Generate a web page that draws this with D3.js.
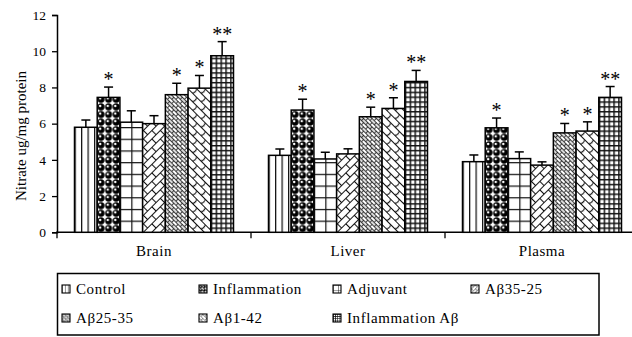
<!DOCTYPE html>
<html>
<head>
<meta charset="utf-8">
<script src="https://cdn.jsdelivr.net/npm/d3@7/dist/d3.min.js"></script>
<style>
  body { margin: 0; background: #fff; }
  svg { display: block; }
  text { font-family: "Liberation Serif", "Times New Roman", serif; fill: #000; }
</style>
</head>
<body>
<svg id="chart" width="632" height="337"></svg>
<script>
// Nitrate levels (ug/mg protein) by tissue and treatment group
const categories = ["Brain", "Liver", "Plasma"];
const seriesNames = ["Control", "Inflammation", "Adjuvant", "Aβ35-25", "Aβ25-35", "Aβ1-42", "Inflammation Aβ"];

const controlValues      = [5.80, 4.25, 3.90];
const inflammationValues = [7.45, 6.75, 5.77];
const adjuvantValues     = [6.08, 4.05, 4.07];
const ab3525Values       = [6.00, 4.33, 3.71];
const ab2535Values       = [7.60, 6.38, 5.49];
const ab142Values        = [7.96, 6.84, 5.59];
const inflAbValues       = [9.75, 8.33, 7.45];

const controlErr      = [0.40, 0.35, 0.37];
const inflammationErr = [0.57, 0.60, 0.54];
const adjuvantErr     = [0.63, 0.37, 0.37];
const ab3525Err       = [0.44, 0.28, 0.18];
const ab2535Err       = [0.63, 0.53, 0.52];
const ab142Err        = [0.70, 0.59, 0.51];
const inflAbErr       = [0.78, 0.61, 0.60];

// significance markers per group
const significance = ["", "*", "", "", "*", "*", "**"];
const yTicks = [0, 2, 4, 6, 8, 10, 12];
const yTitle = "Nitrate ug/mg protein";

const seriesValues = [controlValues, inflammationValues, adjuvantValues, ab3525Values, ab2535Values, ab142Values, inflAbValues];
const seriesErrors = [controlErr, inflammationErr, adjuvantErr, ab3525Err, ab2535Err, ab142Err, inflAbErr];
const fillKinds = ["vlines", "balls", "grid", "bigBrick", "smallBrick", "wave", "fineGrid"];

const svg = d3.select("#chart");
const defs = svg.append("defs");

const plot = { left: 57, right: 639, top: 15, bottom: 232.3 };

const x0 = d3.scaleBand().domain(categories).range([plot.left, plot.right]).paddingInner(0).paddingOuter(0);
const groupPad = 17.5;
const x1 = d3.scaleBand().domain(seriesNames).range([groupPad, x0.bandwidth() - groupPad]).padding(0);
const y = d3.scaleLinear().domain([0, 12]).range([plot.bottom, plot.top]);

// hatch / texture fills, anchored at (tx, ty)
function makePattern(id, kind, tx, ty, s) {
  const p = defs.append("pattern").attr("id", id).attr("patternUnits", "userSpaceOnUse");
  const ink = "#111";
  let w, h, rot = 0;
  const g = (pw, ph) => { w = pw; h = ph; p.attr("width", w).attr("height", h); p.append("rect").attr("width", w).attr("height", h).attr("fill", "#fff"); };
  if (kind === "vlines") {
    g(6.5, 6.5);
    p.append("line").attr("x1", 0.6).attr("x2", 0.6).attr("y1", 0).attr("y2", h).attr("stroke", ink).attr("stroke-width", 1.3);
  } else if (kind === "balls") {
    g(7.57, 7.6);
    p.append("circle").attr("cx", 3.8).attr("cy", 3.8).attr("r", 3.5).attr("fill", "#000");
    p.append("circle").attr("cx", 3.0).attr("cy", 2.9).attr("r", 1.2).attr("fill", "#fff");
  } else if (kind === "grid") {
    g(11.35, 11.7);
    p.append("path").attr("d", `M0.6,0V${h}M0,0.6H${w}`).attr("stroke", ink).attr("stroke-width", 1.2).attr("fill", "none");
  } else if (kind === "bigBrick") {
    g(12, 12); rot = -45;
    p.append("path").attr("d", "M0,0.5H12M0,6.5H12M0.5,0V6.5M6.5,6.5V12").attr("stroke", ink).attr("stroke-width", 1.1).attr("fill", "none");
  } else if (kind === "smallBrick") {
    g(6, 6); rot = 45;
    p.append("path").attr("d", "M0,0.4H6M0,3.4H6M0.4,0V3.4M3.4,3.4V6").attr("stroke", ink).attr("stroke-width", 0.9).attr("fill", "none");
    p.append("path").attr("d", "M0,1.9H6").attr("stroke", "#777").attr("stroke-width", 0.4);
  } else if (kind === "wave") {
    g(12, 12); rot = 45;
    p.append("path").attr("d", "M0,0.5H12M0,6.5H12M0.5,0.5Q3,3.5 0.5,6.5M6.5,6.5Q9,9.5 6.5,12.5").attr("stroke", ink).attr("stroke-width", 1.1).attr("fill", "none");
  } else if (kind === "fineGrid") {
    g(4.85, 4.85);
    p.append("path").attr("d", `M0.7,0V${h}M0,0.7H${w}`).attr("stroke", ink).attr("stroke-width", 1.5).attr("fill", "none");
  }
  p.attr("patternTransform", `translate(${tx},${ty}) scale(${s}) rotate(${rot})`);
  return `url(#${id})`;
}

// axes
const yAxis = d3.axisLeft(y).tickValues(yTicks).tickSize(5).tickPadding(6);
const gy = svg.append("g").attr("transform", `translate(${plot.left},0)`).call(yAxis);
gy.attr("font-family", null);
gy.select(".domain").attr("stroke", "#000").attr("stroke-width", 1.5);
gy.selectAll(".tick line").attr("stroke", "#000").attr("stroke-width", 1.3);
gy.selectAll(".tick text").style("font-size", "13.5px").attr("fill", "#000");

const gx = svg.append("g").attr("transform", `translate(0,${plot.bottom})`);
gx.append("line").attr("x1", plot.left - 1).attr("x2", 632).attr("y1", 0).attr("y2", 0).attr("stroke", "#000").attr("stroke-width", 1.5);
gx.selectAll("line.sep").data(categories).join("line").attr("class", "sep")
  .attr("x1", d => x0(d)).attr("x2", d => x0(d)).attr("y1", 0).attr("y2", 6)
  .attr("stroke", "#000").attr("stroke-width", 1.3);
gx.selectAll("text.cat").data(categories).join("text").attr("class", "cat")
  .attr("x", d => x0(d) + x0.bandwidth() / 2).attr("y", 24)
  .attr("text-anchor", "middle").style("font-size", "15px").style("letter-spacing", "0.5px")
  .text(d => d);

svg.append("text")
  .attr("transform", `translate(21,136) rotate(-90)`)
  .attr("text-anchor", "middle").attr("dominant-baseline", "central")
  .style("font-size", "15px")
  .text(yTitle);

// bars, error bars and significance marks
const barW = x1.bandwidth();
const rows = [];
seriesNames.forEach((name, si) => {
  categories.forEach((cat, ci) => {
    rows.push({ si, ci, name, cat, v: seriesValues[si][ci], e: seriesErrors[si][ci], mark: significance[si] });
  });
});

const bars = svg.append("g");
rows.forEach(d => {
  const bx = x0(d.cat) + x1(d.name);
  const fill = makePattern(`fill-${d.si}-${d.ci}`, fillKinds[d.si], bx, plot.bottom, 1);
  bars.append("rect")
    .attr("x", bx).attr("y", y(d.v))
    .attr("width", barW).attr("height", y(0) - y(d.v))
    .attr("fill", fill).attr("stroke", "#000").attr("stroke-width", 1.5);
  const cx = bx + barW / 2;
  bars.append("line").attr("x1", cx).attr("x2", cx).attr("y1", y(d.v)).attr("y2", y(d.v + d.e))
    .attr("stroke", "#000").attr("stroke-width", 1.5);
  bars.append("line").attr("x1", cx - 4.5).attr("x2", cx + 4.5).attr("y1", y(d.v + d.e)).attr("y2", y(d.v + d.e))
    .attr("stroke", "#000").attr("stroke-width", 1.5);
  if (d.mark) {
    bars.append("text").attr("x", cx).attr("y", y(d.v + d.e) - 1)
      .attr("text-anchor", "middle").style("font-size", "20px").text(d.mark);
  }
});

// legend
const legend = svg.append("g");
legend.append("rect").attr("x", 57.5).attr("y", 273.5).attr("width", 541.5).attr("height", 61.5)
  .attr("fill", "#fff").attr("stroke", "#000").attr("stroke-width", 1.5);
const legendCols = [62, 199, 333, 471];
const legendRows = [289, 318];
seriesNames.forEach((name, i) => {
  const lx = legendCols[i % 4], ly = legendRows[Math.floor(i / 4)];
  const fill = makePattern(`legend-${i}`, fillKinds[i], lx, ly - 4, 0.45);
  legend.append("rect").attr("x", lx).attr("y", ly - 4).attr("width", 8).attr("height", 8)
    .attr("fill", fill).attr("stroke", "#000").attr("stroke-width", 1.1);
  legend.append("text").attr("x", lx + 14).attr("y", ly).attr("dominant-baseline", "central")
    .style("font-size", "15px").style("letter-spacing", "0.6px").text(name);
});
</script>
</body>
</html>
